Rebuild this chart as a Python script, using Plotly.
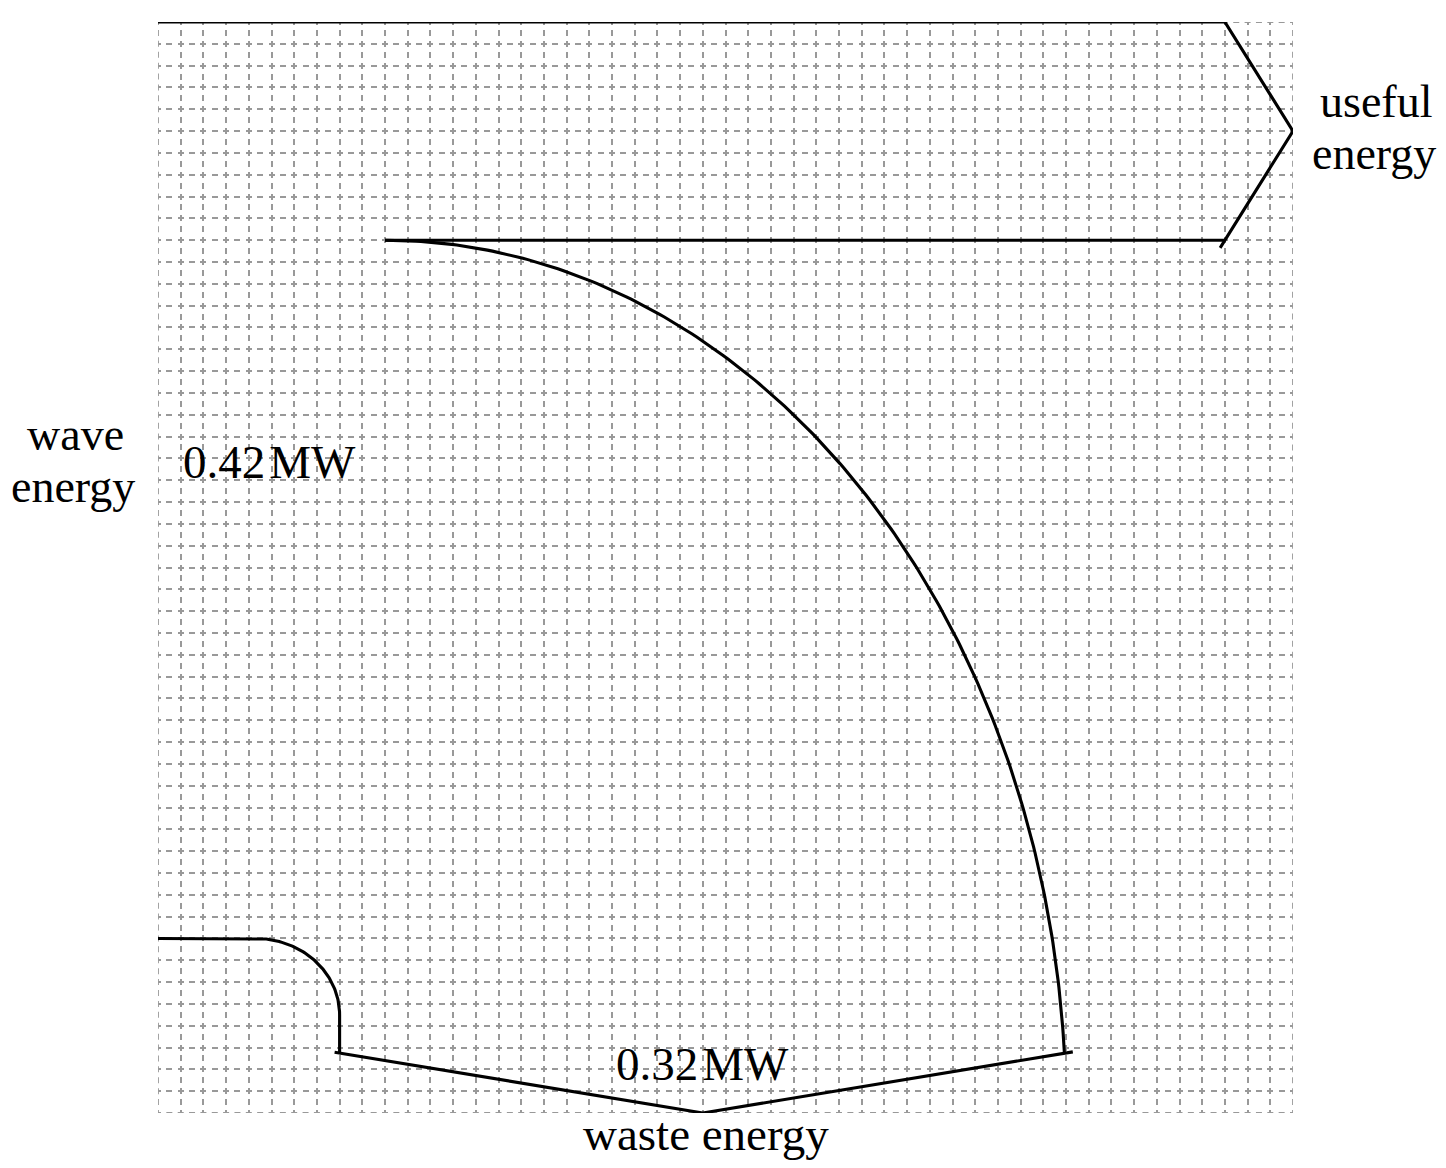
import numpy as np
import plotly.graph_objects as go

# ---------------- data ----------------
flow_names = ["wave energy", "useful energy", "waste energy"]
flow_values_mw = [0.42, 0.10, 0.32]          # MW

# ---------------- geometry (grid squares) ----------------
SQUARES_PER_MW = 100
GRID_N = 50
TOP = 50
wave_v, useful_v, waste_v = flow_values_mw
wave_w = wave_v * SQUARES_PER_MW      # 42 squares
useful_w = useful_v * SQUARES_PER_MW  # 10 squares
waste_w = waste_v * SQUARES_PER_MW    # 32 squares

useful_bottom = TOP - useful_w        # 40
wave_bottom = TOP - wave_w            # 8
useful_end = 47
arrow_tip_x = 50
branch_x = 10                         # where useful band splits off
waste_left = 8
waste_right = waste_left + waste_w    # 40
waste_top_y = 2.75
waste_tip = ((waste_left + waste_right) / 2, 0)

LW = 3.1
line_style = dict(color="black", width=LW)

fig = go.Figure()

def add_line(xs, ys):
    fig.add_trace(go.Scatter(x=list(xs), y=list(ys), mode="lines", line=line_style,
                             hoverinfo="skip", showlegend=False, cliponaxis=False))

# top edge of wave/useful band
add_line([0, useful_end], [TOP, TOP])
# bottom edge of useful band
add_line([branch_x, useful_end], [useful_bottom, useful_bottom])
# useful arrow head
mid_useful = (TOP + useful_bottom) / 2
ext = 1.07
dx = useful_end - arrow_tip_x
dy_up = TOP - mid_useful
add_line([arrow_tip_x + dx * ext, arrow_tip_x, arrow_tip_x + dx * ext],
         [mid_useful + dy_up * ext, mid_useful, mid_useful - dy_up * ext])

# inner curve: quarter ellipse from branch to waste right edge
rx = waste_right - branch_x
ry = useful_bottom
t_end = np.arccos(waste_top_y / ry)
t = np.linspace(0, t_end, 200)
add_line(branch_x + rx * np.sin(t), ry * np.cos(t))

# outer lower curve of wave band
cx, cy = 4.3, 4.5
erx, ery = waste_left - cx, wave_bottom - cy
t2 = np.linspace(0, np.pi / 2, 100)
xs = np.concatenate([[0], cx + erx * np.sin(t2), [waste_left]])
ys = np.concatenate([[wave_bottom], cy + ery * np.cos(t2), [waste_top_y]])
add_line(xs, ys)

# waste arrow head
tipx, tipy = waste_tip
lx = waste_left - 0.22
rx2 = waste_right + 0.3
ly = tipy + (waste_top_y - tipy) * (tipx - lx) / (tipx - waste_left)
ry2 = tipy + (waste_top_y - tipy) * (rx2 - tipx) / (waste_right - tipx)
add_line([lx, tipx, rx2], [ly, tipy, ry2])

# ---------------- text ----------------
FAMILY = "Liberation Serif, Times New Roman, serif"

def label(text, x, y, ref="data", size=47):
    xr, yr = ("x", "y") if ref == "data" else ("paper", "paper")
    fig.add_annotation(x=x, y=y, xref=xr, yref=yr, text=text, showarrow=False,
                       font=dict(family=FAMILY, size=size, color="black"),
                       xanchor="center", yanchor="middle", borderpad=0)

vals = dict(zip(flow_names, flow_values_mw))
label("wave", -0.0731, 0.6223, "paper", 46)
label("energy", -0.0749, 0.5747, "paper", 46)
label("useful", 1.0729, 0.9274, "paper", 46)
label("energy", 1.0718, 0.8797, "paper", 46)
label("waste energy", 0.4828, -0.0192, "paper")
label(f"{vals['wave energy']:.2f}\u200aMW", 4.89, 29.82)
label(f"{vals['waste energy']:.2f}\u200aMW", 23.99, 2.245)

grid_col = "#999999"
GW = 1.8
dash_v = "3px,4.91px,3px,0px"   # vertical grid lines (run top -> bottom)
dash_h = "3px,5.35px,3px,0px"   # horizontal grid lines (run left -> right)

# edge grid lines (plotly drops grid lines lying on the range ends)
for gx in (0, GRID_N):
    fig.add_shape(type="line", x0=gx, x1=gx, y0=GRID_N, y1=0, xref="x", yref="y",
                  line=dict(color=grid_col, width=GW, dash=dash_v), layer="below")
for gy in (0, GRID_N):
    fig.add_shape(type="line", x0=0, x1=GRID_N, y0=gy, y1=gy, xref="x", yref="y",
                  line=dict(color=grid_col, width=GW, dash=dash_h), layer="below")

fig.update_xaxes(range=[0, GRID_N], dtick=1, tick0=0, showgrid=True, gridcolor=grid_col,
                 gridwidth=GW, griddash=dash_v, zeroline=False,
                 showticklabels=False, ticks="", showline=False, fixedrange=True)
fig.update_yaxes(range=[0, GRID_N], dtick=1, tick0=0, showgrid=True, gridcolor=grid_col,
                 gridwidth=GW, griddash=dash_h, zeroline=False,
                 showticklabels=False, ticks="", showline=False, fixedrange=True)
fig.update_layout(width=1446, height=1168, margin=dict(l=150, r=161, t=14, b=63),
                  plot_bgcolor="white", paper_bgcolor="white", showlegend=False)

fig.write_html("out.html")
